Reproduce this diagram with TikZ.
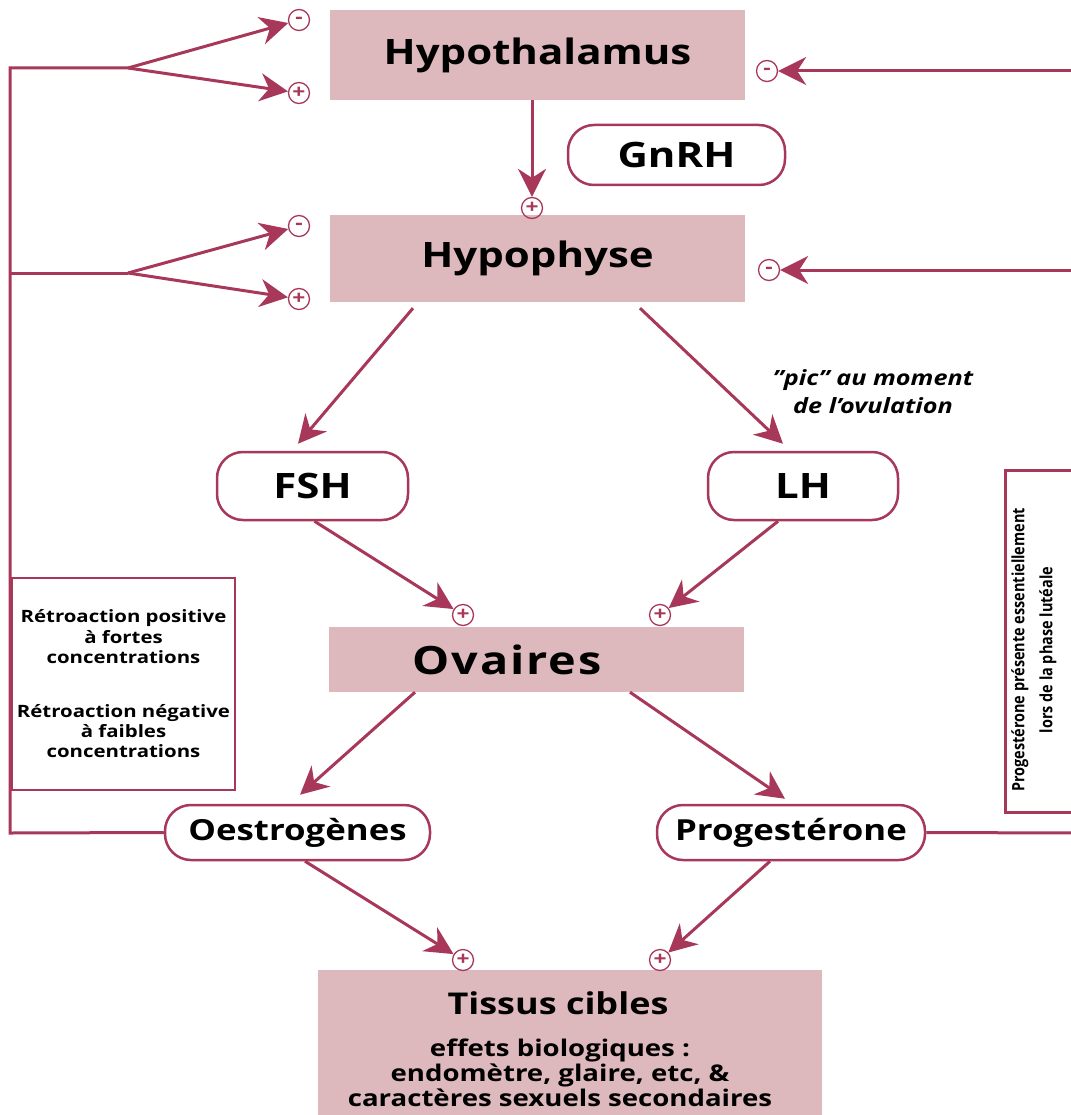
\documentclass[tikz,border=0pt]{standalone}
\usepackage{fontspec}
\setmainfont{Open Sans}[FakeStretch=1.2]
\newfontfamily\narrowfont{Open Sans}[FakeStretch=0.85]
\usetikzlibrary{arrows.meta,positioning,calc}
\definecolor{hormonered}{RGB}{168,56,90}
\definecolor{glandpink}{RGB}{221,184,188}
\newcommand{\fsz}[1]{\fontsize{#1}{1.2\dimexpr#1pt\relax}\selectfont\bfseries}

\begin{document}
\begin{tikzpicture}[x=1pt, y=-1pt,
      >={Stealth[length=28pt, width=28pt, inset=9pt]},
      gland/.style={fill=glandpink, minimum width=415pt, minimum height=88pt,
                    inner sep=0pt, font=\fsz{35}},
      hormone/.style={draw=hormonered, line width=2.5pt, fill=white,
                      rounded corners=26pt, minimum height=66pt, inner sep=0pt,
                      font=\fsz{35}},
      sign/.style={draw=hormonered, circle, line width=1.3pt, minimum size=21pt,
                   inner sep=0pt, text=hormonered, font=\fsz{19}},
      arr/.style={->, draw=hormonered, line width=3pt},
      link/.style={draw=hormonered, line width=3pt},
      note/.style={align=center, font=\fsz{17}}
    ]
    \useasboundingbox (0,0) rectangle (1070,1115);

    % glands
    \node[gland, minimum height=90pt] (hypothalamus) at (537.5,55) {Hypothalamus};
    \node[gland, minimum height=87pt] (hypophyse) at (537.5,258.5) {Hypophyse};
    \node[gland, minimum height=65pt] (ovaires) at (536,659.5) {};
    \node[font=\fsz{39}\addfontfeature{LetterSpace=5}] (ovairestext) at (507,660) {Ovaires};
    \node[gland, minimum width=504pt, minimum height=150pt] (tissus) at (570,1045) {};
    \node[font=\fsz{30}] (tissustitle) at (558,1003) {Tissus cibles};
    \node[align=center, font=\fontsize{23}{25}\selectfont\bfseries] (effets) at (560,1073)
      {effets biologiques :\\endomètre, glaire, etc, \&\\caractères sexuels secondaires};

    % hormones
    \node[hormone, minimum width=217pt, minimum height=60pt] (gnrh) at (676.5,155) {GnRH};
    \node[hormone, minimum width=191pt, minimum height=68pt] (fsh) at (312.5,486) {FSH};
    \node[hormone, minimum width=190pt, minimum height=68pt] (lh) at (803,486) {LH};
    \node[hormone, minimum width=265pt, minimum height=55pt, font=\fsz{29}] (oestro) at (297.5,832.5) {Oestrogènes};
    \node[hormone, minimum width=268pt, minimum height=55pt, font=\fsz{29}] (proges) at (791,832.5) {Progestérone};

    % signs
    \node[sign] (mHt) at (299,20) {-};
    \node[sign] (pHt) at (299,93) {+};
    \node[sign] (mHp) at (299,226) {-};
    \node[sign] (pHp) at (299,299) {+};
    \node[sign] (mHtR) at (767,71) {-};
    \node[sign] (mHpR) at (769,270) {-};
    \node[sign] (pGn) at (532,208) {+};
    \node[sign] (pOv1) at (463,615) {+};
    \node[sign] (pOv2) at (660,615) {+};
    \node[sign] (pTi1) at (463,960) {+};
    \node[sign] (pTi2) at (660,960) {+};

    % notes
    \node[font=\itshape\fontsize{21}{28}\selectfont\bfseries, align=center] (pic) at (873,392)
      {''pic'' au moment\\de l'ovulation};
    \node[draw=hormonered, line width=2.5pt, minimum width=223pt, minimum height=212pt,
          note] (retro) at (123.5,684)
      {Rétroaction positive\\à fortes\\concentrations\\[33pt]Rétroaction négative\\à faibles\\concentrations};
    \draw[draw=hormonered, line width=3pt] (1095,470) -| (1005,812) -- (1095,812);
    \node[rotate=90, align=center, font=\narrowfont\fontsize{17}{28}\selectfont\bfseries] (luteal) at (1034,650)
      {Progestérone présente essentiellement\\lors de la phase lutéale};

    % feedback lines
    \coordinate (fbbase) at (10,833);
    \coordinate (fbtop) at (10,68);
    \coordinate (fbmid) at (10,273);
    \coordinate (fork1) at (128,68);
    \coordinate (fork2) at (128,273);
    \coordinate (rtop) at (1075,71);
    \coordinate (rmid) at (1075,270);
    \coordinate (rlow) at (1075,833);

    \draw[link] (oestro.west) -- (fbbase) -- (fbtop) -- (fork1);
    \draw[link] (fbmid) -- (fork2);
    \draw[arr] (fork1) -- (mHt);
    \draw[arr] (fork1) -- (pHt);
    \draw[arr] (fork2) -- (mHp);
    \draw[arr] (fork2) -- (pHp);
    \draw[link] (proges.east) -- (rlow);
    \draw[arr] (rtop) -- (mHtR);
    \draw[arr] (rmid) -- (mHpR);

    % axis
    \draw[arr] (pGn |- hypothalamus.south) -- (pGn);
    \draw[arr] ([xshift=-124.5pt,yshift=-6pt]hypophyse.south) -- ([xshift=-14.5pt,yshift=7pt]fsh.north);
    \draw[arr] ([xshift=102.5pt,yshift=-6pt]hypophyse.south) -- ([xshift=-20pt,yshift=7pt]lh.north);
    \draw[arr] ([xshift=2pt]fsh.south) -- (pOv1);
    \draw[arr] ([xshift=-25pt]lh.south) -- (pOv2);
    \draw[arr] ([xshift=-121pt]ovaires.south) -- ([xshift=2.5pt,yshift=9pt]oestro.north);
    \draw[arr] ([xshift=94pt]ovaires.south) -- ([xshift=-6pt,yshift=5pt]proges.north);
    \draw[arr] ([xshift=7.5pt]oestro.south) -- (pTi1);
    \draw[arr] ([xshift=-21pt]proges.south) -- (pTi2);
  \end{tikzpicture}
\end{document}
